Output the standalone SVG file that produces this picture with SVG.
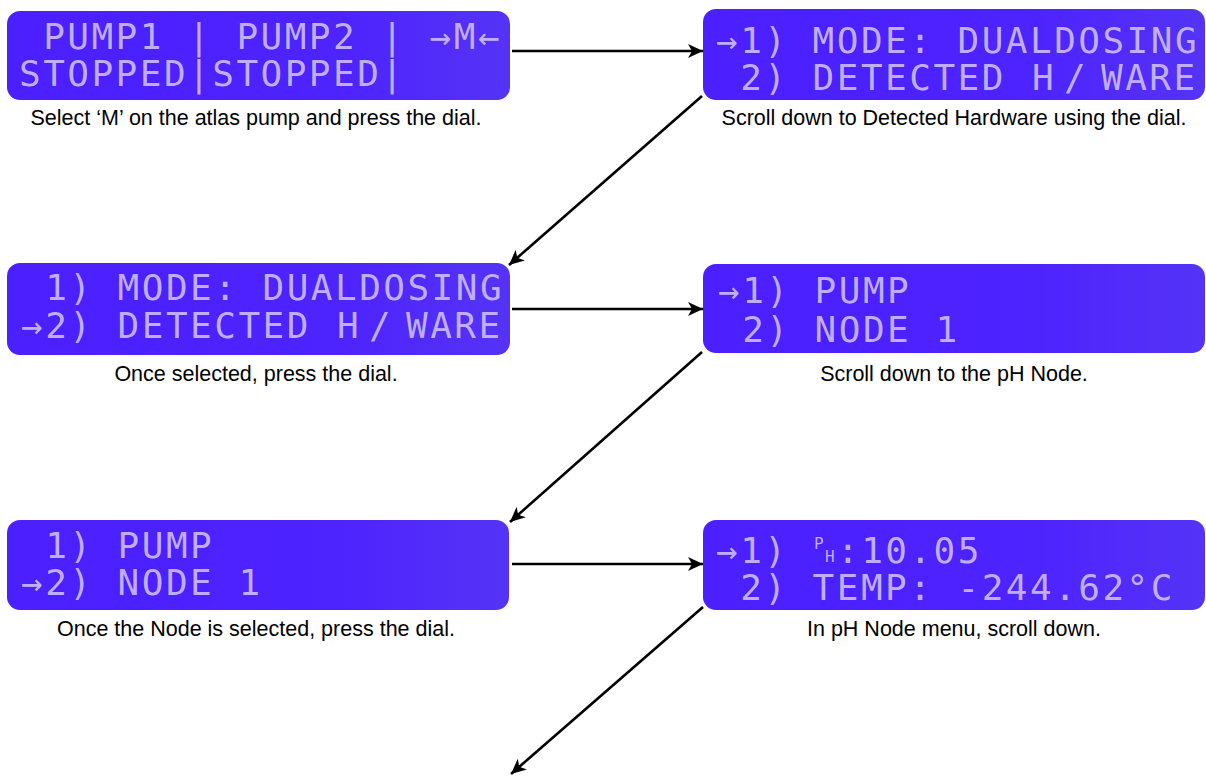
<svg xmlns="http://www.w3.org/2000/svg" width="1206" height="776" viewBox="0 0 1206 776">
  <defs>
    <linearGradient id="lcd" x1="0" y1="0" x2="1" y2="0">
      <stop offset="0" stop-color="#4b1fff"/>
      <stop offset="0.65" stop-color="#4d23fe"/>
      <stop offset="1" stop-color="#5533f6"/>
    </linearGradient>
    <marker id="ah" markerUnits="userSpaceOnUse" markerWidth="17" markerHeight="15" viewBox="-16 -7.5 17 15" refX="0" refY="0" orient="auto">
      <path d="M0,0 L-15,-7 L-11,0 L-15,7 Z" fill="#000"/>
    </marker>
    <style>
      .scr { fill: url(#lcd); }
      .lcd { font-family: "DejaVu Sans Mono", "Liberation Mono", monospace; font-size: 36px; letter-spacing: 2.48px; fill: #cbbdff; fill-opacity: 0.93; white-space: pre; }
      .sm { font-size: 16px; letter-spacing: 0; }
      .cap { font-family: "Liberation Sans", Arial, sans-serif; font-size: 21.5px; fill: #000; text-anchor: middle; }
      .con { stroke: #000; stroke-width: 2.6; fill: none; marker-end: url(#ah); }
    </style>
  </defs>
  <rect width="1206" height="776" fill="#fff"/>

  <g id="screen1">
    <rect class="scr" x="7" y="11" width="503" height="89" rx="13"/>
    <text class="lcd" x="19" y="48.5" xml:space="preserve"> PUMP1 | PUMP2 | →M←</text>
    <text class="lcd" x="19" y="86" xml:space="preserve">STOPPED|STOPPED|</text>
    <text class="cap" x="256" y="125">Select ‘M’ on the atlas pump and press the dial.</text>
  </g>

  <g id="screen2">
    <rect class="scr" x="703" y="9" width="502" height="91" rx="13"/>
    <text class="lcd" x="716" y="53" xml:space="preserve">→1) MODE: DUALDOSING</text>
    <text class="lcd" x="716" y="90" xml:space="preserve"> 2) DETECTED <tspan x="1032">H</tspan><tspan x="1064">/</tspan><tspan x="1101">WARE</tspan></text>
    <text class="cap" x="954" y="125">Scroll down to Detected Hardware using the dial.</text>
  </g>

  <g id="screen3">
    <rect class="scr" x="7" y="263" width="503" height="92" rx="13"/>
    <text class="lcd" x="21" y="300" xml:space="preserve"> 1) MODE: DUALDOSING</text>
    <text class="lcd" x="21" y="338" xml:space="preserve">→2) DETECTED <tspan x="337">H</tspan><tspan x="369">/</tspan><tspan x="406">WARE</tspan></text>
    <text class="cap" x="256" y="381">Once selected, press the dial.</text>
  </g>

  <g id="screen4">
    <rect class="scr" x="703" y="264" width="502" height="89" rx="13"/>
    <text class="lcd" x="718" y="303" xml:space="preserve">→1) PUMP</text>
    <text class="lcd" x="718" y="342" xml:space="preserve"> 2) NODE 1</text>
    <text class="cap" x="954" y="381">Scroll down to the pH Node.</text>
  </g>

  <g id="screen5">
    <rect class="scr" x="7" y="520" width="502" height="90" rx="13"/>
    <text class="lcd" x="21" y="558" xml:space="preserve"> 1) PUMP</text>
    <text class="lcd" x="21" y="595" xml:space="preserve">→2) NODE 1</text>
    <text class="cap" x="256" y="636">Once the Node is selected, press the dial.</text>
  </g>

  <g id="screen6">
    <rect class="scr" x="703" y="520" width="502" height="90" rx="13"/>
    <text class="lcd" x="716" y="563" xml:space="preserve">→1) <tspan class="sm" x="814" y="549">P</tspan><tspan class="sm" x="825" y="562">H</tspan><tspan x="837" y="563">:10.05</tspan></text>
    <text class="lcd" x="716" y="600" xml:space="preserve"> 2) TEMP: -244.62°C</text>
    <text class="cap" x="954" y="636">In pH Node menu, scroll down.</text>
  </g>

  <g id="connectors">
    <line class="con" x1="512" y1="51" x2="703" y2="51"/>
    <line class="con" x1="702" y1="96" x2="509" y2="265"/>
    <line class="con" x1="512" y1="309" x2="703" y2="309"/>
    <line class="con" x1="702" y1="352" x2="510" y2="522"/>
    <line class="con" x1="512" y1="564" x2="703" y2="564"/>
    <line class="con" x1="703" y1="607" x2="511" y2="774"/>
  </g>
</svg>
